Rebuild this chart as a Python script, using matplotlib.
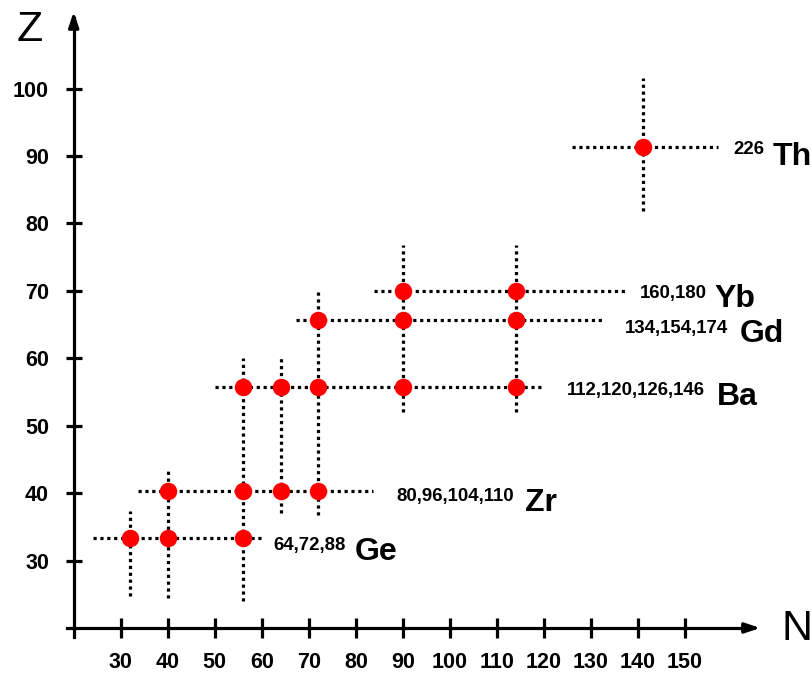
import matplotlib
matplotlib.use("Agg")
import matplotlib.pyplot as plt

plt.rcParams['font.family'] = ['Liberation Sans', 'DejaVu Sans']

# ---- data ----
elements = ["Ge", "Zr", "Ba", "Gd", "Yb", "Th"]
z_values = [33.4, 40.3, 55.8, 65.7, 70.0, 91.4]
n_values = [[32, 40, 56], [40, 56, 64, 72], [56, 64, 72, 90, 114],
            [72, 90, 114], [90, 114], [141]]
mass_labels = ["64,72,88", "80,96,104,110", "112,120,126,146",
               "134,154,174", "160,180", "226"]
# horizontal dotted line extent per row (N from, N to)
h_start = [24.1, 33.7, 50.1, 67.3, 83.9, 125.9]
h_end = [60.1, 83.7, 119.5, 132.6, 137.2, 157.1]
# vertical dotted lines per column
v_n = [32, 40, 56, 64, 72, 90, 114, 141]
v_low = [24.7, 24.5, 24.0, 37.0, 36.8, 52.0, 52.0, 81.9]
v_high = [37.3, 43.4, 60.1, 60.1, 70.0, 76.8, 76.8, 101.5]

# ---- layout of the text labels (N, Z of the baseline start) ----
mass_pos = [(62.4, 31.57), (88.7, 38.8), (124.9, 54.55),
            (137.3, 63.75), (140.4, 68.94), (160.2, 90.3)]
elem_pos = [(79.85, 30.08), (115.96, 37.35), (156.8, 53.07),
            (161.7, 62.4), (156.3, 67.65), (168.7, 88.6)]

x_ticks = [30, 40, 50, 60, 70, 80, 90, 100, 110, 120, 130, 140, 150]
y_ticks = [30, 40, 50, 60, 70, 80, 90, 100]

fig = plt.figure(figsize=(8.12, 6.77), dpi=100)
ax = fig.add_axes([0, 0, 1, 1])
ax.set_xlim(4.33, 177.0)
ax.set_ylim(12.73, 113.13)

dot = (0, (1, 1.15))
lw = 2.3
for zs, a, b in zip(z_values, h_start, h_end):
    ax.plot([a, b], [zs, zs], color='black', lw=lw, linestyle=dot,
            dash_capstyle='butt', zorder=2)
for n, lo, hi in zip(v_n, v_low, v_high):
    ax.plot([n, n], [lo, hi], color='black', lw=lw, linestyle=dot,
            dash_capstyle='butt', zorder=2)

for zs, ns in zip(z_values, n_values):
    ax.plot(ns, [zs] * len(ns), linestyle='none', marker='o',
            markersize=12.6, color='#ff0000', markeredgewidth=0, zorder=3)

for el, ml, mp, ep in zip(elements, mass_labels, mass_pos, elem_pos):
    ax.text(mp[0], mp[1], ml, fontsize=13.4, fontweight='bold',
            ha='left', va='baseline')
    ax.text(ep[0], ep[1], el, fontsize=23, fontweight='bold',
            ha='left', va='baseline')

# axes as spines
for s in ['top', 'right']:
    ax.spines[s].set_visible(False)
ax.spines['left'].set_position(('data', 20))
ax.spines['bottom'].set_position(('data', 20))
ax.spines['left'].set_bounds(18.6, 110.5)
ax.spines['bottom'].set_bounds(18.6, 164.5)
ax.spines['left'].set_linewidth(2.3)
ax.spines['bottom'].set_linewidth(2.3)

ax.set_xticks(x_ticks)
ax.set_yticks(y_ticks)
ax.tick_params(axis='x', direction='inout', length=14, width=2.3,
               pad=10, labelsize=15.5)
ax.tick_params(axis='y', direction='inout', length=11.5, width=2.3,
               pad=12, labelsize=15.5)
for lab in ax.get_xticklabels() + ax.get_yticklabels():
    lab.set_fontweight('bold')

# arrow heads
ax.annotate('', xy=(166.0, 20), xytext=(163.0, 20),
            arrowprops=dict(arrowstyle='-|>,head_length=0.9,head_width=0.3',
                            color='black', lw=2.3, shrinkA=0, shrinkB=0))
ax.annotate('', xy=(20, 111.4), xytext=(20, 109.5),
            arrowprops=dict(arrowstyle='-|>,head_length=0.9,head_width=0.3',
                            color='black', lw=2.3, shrinkA=0, shrinkB=0))

ax.text(30 / 812, 1 - 30 / 677, 'Z', transform=ax.transAxes, fontsize=31,
        ha='center', va='center')
ax.text(797 / 812, 1 - 629 / 677, 'N', transform=ax.transAxes, fontsize=31,
        ha='center', va='center')

fig.savefig('out.png', dpi=100)
